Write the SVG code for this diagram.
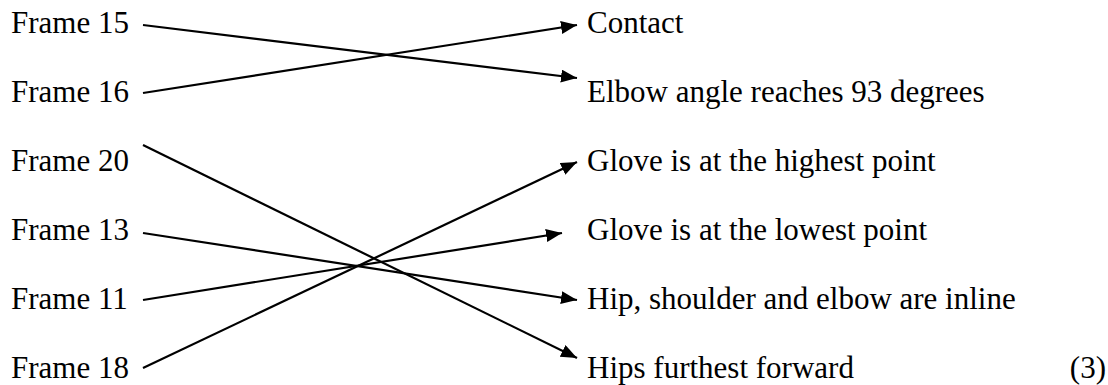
<svg xmlns="http://www.w3.org/2000/svg" width="1108" height="385" viewBox="0 0 1108 385">
<style>
text{font-family:"Liberation Serif","Times New Roman",serif;font-size:31px;fill:#000}
.c line{stroke:#000;stroke-width:2.2;fill:none}
</style>
<defs>
<marker id="ah" markerUnits="userSpaceOnUse" markerWidth="17" markerHeight="14" refX="16" refY="6.5" orient="auto">
<path d="M0,0 L16,6.5 L0,13 z" fill="#000"/>
</marker>
</defs>
<rect width="1108" height="385" fill="#fff"/>
<g id="f15"><text x="11" y="33">Frame 15</text></g>
<g id="f16"><text x="11" y="102">Frame 16</text></g>
<g id="f20"><text x="11" y="171">Frame 20</text></g>
<g id="f13"><text x="11" y="240">Frame 13</text></g>
<g id="f11"><text x="11" y="309">Frame 11</text></g>
<g id="f18"><text x="11" y="378">Frame 18</text></g>
<g id="contact"><text x="587" y="33">Contact</text></g>
<g id="elbow"><text x="587" y="102">Elbow angle reaches 93 degrees</text></g>
<g id="highest"><text x="587" y="171">Glove is at the highest point</text></g>
<g id="lowest"><text x="587" y="240">Glove is at the lowest point</text></g>
<g id="inline"><text x="587" y="309">Hip, shoulder and elbow are inline</text></g>
<g id="hips"><text x="587" y="378">Hips furthest forward</text></g>
<g id="mark"><text x="1106" y="378" text-anchor="end">(3)</text></g>
<g id="connectors" class="c">
<line x1="143" y1="25" x2="577" y2="78" marker-end="url(#ah)"/>
<line x1="143" y1="93" x2="577" y2="25" marker-end="url(#ah)"/>
<line x1="143" y1="145" x2="577" y2="358" marker-end="url(#ah)"/>
<line x1="143" y1="233" x2="577" y2="300" marker-end="url(#ah)"/>
<line x1="143" y1="300" x2="562" y2="233" marker-end="url(#ah)"/>
<line x1="143" y1="368" x2="577" y2="162" marker-end="url(#ah)"/>
</g>
</svg>
